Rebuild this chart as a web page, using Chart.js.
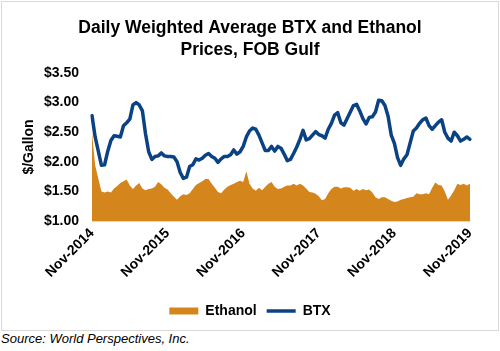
<!DOCTYPE html>
<html><head><meta charset="utf-8">
<script src="https://cdn.jsdelivr.net/npm/chart.js@4.4.1/dist/chart.umd.min.js"></script>
<style>
html,body{margin:0;padding:0;background:#fff;}
#frame{position:absolute;left:1px;top:1px;width:496px;height:328px;border:1px solid #d9d9d9;}
#c{display:block;}
#src{position:absolute;left:1px;top:331px;font:italic 13px "Liberation Sans",Arial,sans-serif;color:#000;white-space:nowrap;}
</style></head><body>
<div id="frame"><canvas id="c" width="496" height="328"></canvas></div>
<div id="src">Source: World Perspectives, Inc.</div>
<script>
// ---- DATA (semi-monthly readings, Nov-2014 .. Nov-2019) ----
const titleLines = ['Daily Weighted Average BTX and Ethanol', 'Prices, FOB Gulf'];
const xTickLabels = ['Nov-2014','Nov-2015','Nov-2016','Nov-2017','Nov-2018','Nov-2019'];
const yTickValues = [1.00, 1.50, 2.00, 2.50, 3.00, 3.50];
const seriesNames = ['Ethanol', 'BTX'];

const btx = [
 2.78,2.42,2.18,1.94,1.95,2.18,2.36,2.44,2.43,2.42,
 2.61,2.66,2.72,2.96,3.00,2.96,2.86,2.47,2.17,2.04,
 2.09,2.10,2.15,2.10,2.09,2.09,2.08,2.00,1.82,1.72,
 1.74,1.92,1.95,2.05,2.03,2.06,2.11,2.14,2.09,2.06,
 1.99,2.05,2.09,2.09,2.12,2.20,2.13,2.17,2.26,2.42,
 2.52,2.57,2.55,2.45,2.32,2.19,2.19,2.26,2.18,2.26,
 2.23,2.13,2.02,2.04,2.14,2.25,2.38,2.53,2.37,2.39,
 2.45,2.51,2.46,2.44,2.40,2.55,2.65,2.79,2.83,2.66,
 2.62,2.73,2.84,2.95,2.97,2.86,2.73,2.64,2.75,2.76,
 2.84,3.04,3.03,2.95,2.77,2.45,2.31,2.07,1.94,2.05,
 2.12,2.32,2.52,2.57,2.65,2.71,2.74,2.61,2.55,2.61,
 2.67,2.71,2.50,2.40,2.35,2.50,2.44,2.35,2.38,2.42,
 2.38];

const ethanol = [
 2.49,1.94,1.72,1.50,1.48,1.50,1.48,1.55,1.59,1.64,
 1.67,1.70,1.60,1.54,1.60,1.64,1.55,1.52,1.54,1.55,
 1.58,1.66,1.62,1.56,1.53,1.47,1.41,1.36,1.42,1.45,
 1.44,1.47,1.54,1.61,1.64,1.67,1.71,1.71,1.63,1.56,
 1.49,1.47,1.53,1.58,1.61,1.63,1.66,1.68,1.66,1.84,
 1.63,1.55,1.51,1.56,1.52,1.58,1.63,1.66,1.58,1.54,
 1.55,1.58,1.60,1.60,1.63,1.60,1.63,1.60,1.55,1.49,
 1.48,1.46,1.42,1.35,1.37,1.47,1.54,1.58,1.58,1.55,
 1.57,1.57,1.56,1.51,1.54,1.51,1.54,1.52,1.53,1.48,
 1.40,1.37,1.40,1.40,1.37,1.34,1.32,1.33,1.36,1.37,
 1.39,1.40,1.41,1.47,1.45,1.45,1.47,1.45,1.56,1.65,
 1.61,1.60,1.50,1.36,1.43,1.52,1.63,1.61,1.63,1.60,
 1.63];

// category dates (1st and 16th of each month)
const periods = [];
for (let m = 0; m <= 60; m++) {
  const y = 2014 + Math.floor((10 + m) / 12);
  const mo = String((10 + m) % 12 + 1).padStart(2, '0');
  periods.push(y + '-' + mo + '-01');
  if (m < 60) periods.push(y + '-' + mo + '-16');
}

const FONT = "'Liberation Sans', Arial, sans-serif";
const ORANGE = '#D4861C';
const NAVY = '#0B4283';

new Chart(document.getElementById('c'), {
  type: 'line',
  data: {
    labels: periods,
    datasets: [
      { label: seriesNames[0], data: ethanol, fill: 'start', backgroundColor: ORANGE, borderColor: ORANGE,
        borderWidth: 0, pointRadius: 0, pointStyle: 'rect', tension: 0, order: 1 },
      { label: seriesNames[1], data: btx, fill: false, backgroundColor: NAVY, borderColor: NAVY,
        borderWidth: 3.5, pointRadius: 0, pointStyle: 'line', tension: 0, order: 0,
        borderJoinStyle: 'round', borderCapStyle: 'round' }
    ]
  },
  options: {
    responsive: false, animation: false, events: [],
    layout: { padding: { left: 0, right: 0, top: 0, bottom: 2 } },
    plugins: {
      title: { display: true, text: titleLines, color: '#000',
        font: { family: FONT, size: 17.5, weight: 'bold', lineHeight: 1.25 },
        padding: { top: 15, bottom: 12.25 } },
      legend: { position: 'bottom',
        labels: { usePointStyle: true, pointStyleWidth: 29, boxHeight: 7, color: '#000', padding: 10,
          font: { family: FONT, size: 14, weight: 'bold' },
          sort: (a, b) => a.datasetIndex - b.datasetIndex } },
      tooltip: { enabled: false }
    },
    scales: {
      x: {
        grid: { display: false, drawTicks: false },
        border: { display: true, color: '#d9d9d9', width: 1 },
        ticks: { autoSkip: false, maxRotation: 45, minRotation: 45, padding: 4, color: '#000',
          font: { family: FONT, size: 14, weight: 'bold' },
          callback: function (v, i) {
            const d = periods[i];
            if (d && d.endsWith('-11-01')) return xTickLabels[parseInt(d.slice(0, 4)) - 2014];
            return '';
          } },
        afterFit: s => { s.height = 73; }
      },
      y: {
        min: yTickValues[0], max: yTickValues[yTickValues.length - 1],
        afterBuildTicks: s => { s.ticks = yTickValues.map(v => ({ value: v })); },
        grid: { display: false, drawTicks: false },
        border: { display: false },
        ticks: { padding: 13, color: '#000', font: { family: FONT, size: 14, weight: 'bold' },
          callback: v => '$' + Number(v).toFixed(2) },
        title: { display: true, text: '$/Gallon', color: '#000',
          font: { family: FONT, size: 14, weight: 'bold' }, padding: { top: 18.6, bottom: 0 } },
        afterFit: s => { s.width = 90; }
      },
      yRight: {
        position: 'right', display: true,
        grid: { display: false, drawTicks: false }, border: { display: false },
        ticks: { display: false },
        afterFit: s => { s.width = 28; }
      }
    }
  }
});
</script>
</body></html>
